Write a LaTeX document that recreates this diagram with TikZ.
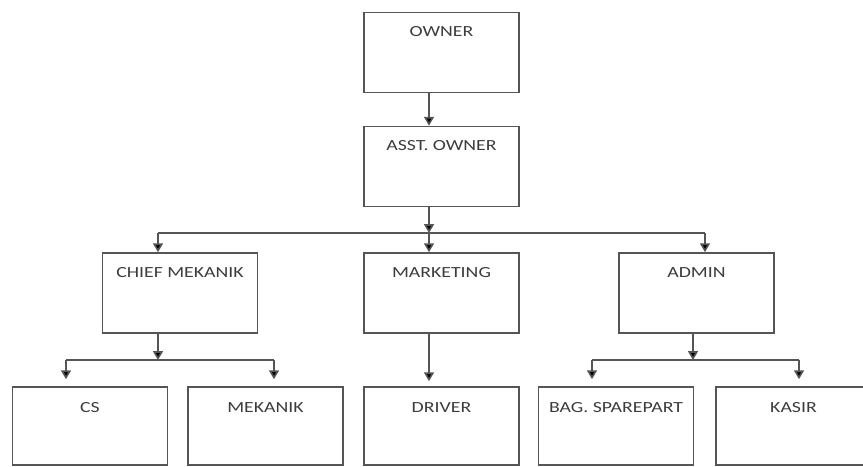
\documentclass[tikz,border=0pt]{standalone}
\usepackage{fontspec}
\setmainfont{Carlito}
\usepackage{tikz}
\usetikzlibrary{arrows.meta, calc, positioning}

\definecolor{garis}{HTML}{555555}
\definecolor{tulisan}{HTML}{3C3C3C}

\newcommand{\jab}[1]{\scalebox{1.28}[1]{\spaceskip=0.22em #1}}

\begin{document}
\begin{tikzpicture}[x=0.02cm, y=-0.02cm,
    >={Triangle[length=5pt, width=5.6pt]},
    garisan/.style={draw=garis, line width=0.9pt},
    jabatan/.style={draw=garis, line width=0.9pt, rectangle, inner sep=0pt,
        minimum width=3.1cm, text width=3.1cm, align=center,
        text height=0.48cm, text depth=1.12cm, text=tulisan,
        font=\fontsize{8.8}{10}\selectfont},
    bawah/.style={jabatan, text height=0.5cm, text depth=1.06cm}]
    \useasboundingbox (0, 0) rectangle (863, 467);

    \node[jabatan] (owner) at (441.5, 52.5) {\jab{OWNER}};
    \node[jabatan] (asst) at (441.5, 166.5) {\jab{ASST. OWNER}};
    \node[jabatan] (chief) at (180, 293) {\jab{CHIEF MEKANIK}};
    \node[jabatan] (marketing) at (441.5, 293) {\jab{MARKETING}};
    \node[jabatan] (admin) at (696.5, 293) {\jab{ADMIN}};
    \node[bawah] (cs) at (90, 426) {\jab{CS}};
    \node[bawah] (mekanik) at (265.5, 426) {\jab{MEKANIK}};
    \node[bawah] (driver) at (441.5, 426) {\jab{DRIVER}};
    \node[bawah] (sparepart) at (616, 426) {\jab{BAG. SPAREPART}};
    \node[bawah] (kasir) at (793.5, 426) {\jab{KASIR}};

    % garis cabang
    \coordinate (busL) at (158, 233);
    \coordinate (busM) at (429, 233);
    \coordinate (busR) at (705, 233);
    \coordinate (cmL) at (66, 360);
    \coordinate (cmM) at (158, 360);
    \coordinate (cmR) at (274, 360);
    \coordinate (adL) at (592, 360);
    \coordinate (adM) at (693, 360);
    \coordinate (adR) at (799, 360);

    \draw[garisan]
    ($(owner.south)+(-12.5, 0)$) edge[->] ($(asst.north)+(-12.5, 0)$)
    ($(asst.south)+(-12.5, 0)$) edge[->] (busM)
    (busL) -- (busR)
    (busL) edge[->] (busL |- chief.north)
    (busM) edge[->] (busM |- marketing.north)
    (busR) edge[->] (busR |- admin.north)
    (cmM |- chief.south) edge[->] (cmM)
    (cmL) -- (cmR)
    (cmL) edge[->] ($(cmL |- cs.north)+(0, -7)$)
    (cmR) edge[->] ($(cmR |- mekanik.north)+(0, -7)$)
    ($(marketing.south)+(-12.5, 0)$) edge[->] ($(driver.north)+(-12.5, -5)$)
    (adM |- admin.south) edge[->] (adM)
    (adL) -- (adR)
    (adL) edge[->] ($(adL |- sparepart.north)+(0, -7)$)
    (adR) edge[->] ($(adR |- kasir.north)+(0, -7)$);
\end{tikzpicture}
\end{document}
